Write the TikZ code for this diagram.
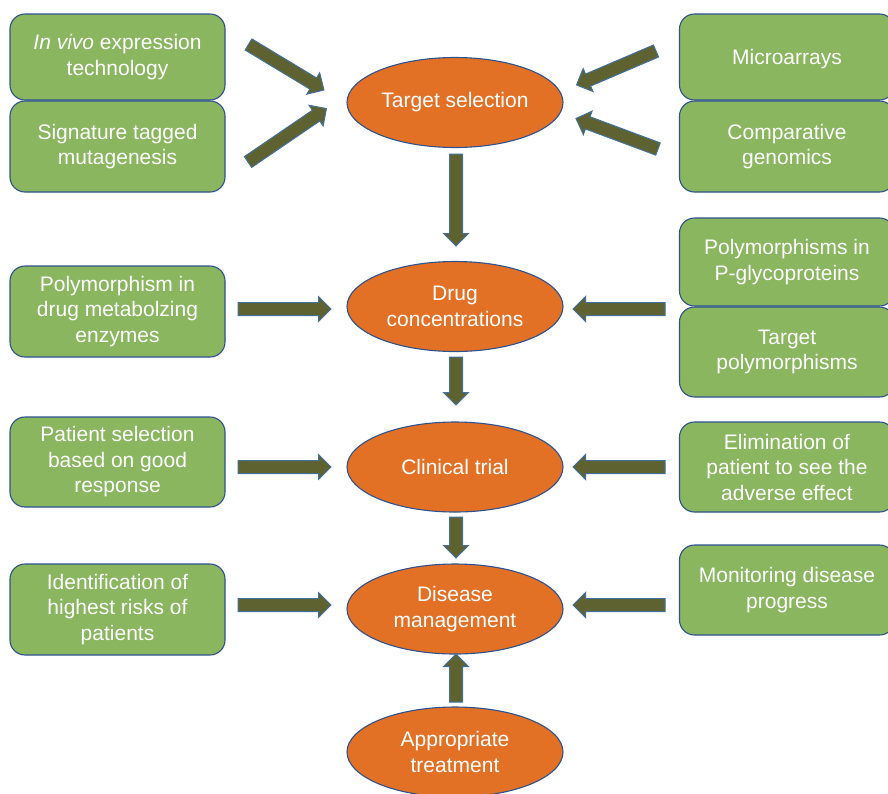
\documentclass[tikz,border=0pt]{standalone}
\usepackage{fontspec}
\setmainfont{Liberation Sans}
\usetikzlibrary{shapes.geometric,shapes.arrows,calc}
\definecolor{boxgreen}{RGB}{137,182,94}
\definecolor{ellorange}{RGB}{226,113,38}
\definecolor{arrolive}{RGB}{94,98,48}
\definecolor{edgeblue}{RGB}{47,82,143}
\definecolor{arredge}{RGB}{65,113,156}
\newcommand{\blockarr}[2]{%
  \path let \p1=($(#2)-(#1)$), \n1={veclen(\x1,\y1)}, \n2={atan2(\y1,\x1)} in
    node[barrow, minimum height=\n1, rotate=\n2, anchor=tail] at (#1) {};}
\begin{document}
\begin{tikzpicture}[x=1pt,y=-1pt,
  gbox/.style={draw=edgeblue, line width=1.1pt, fill=boxgreen, rounded corners=15pt,
    minimum width=215pt, inner sep=0pt, text=white, align=center,
    execute at begin node={\rule{0pt}{18.5pt}},
    font=\fontsize{21}{25.5}\selectfont},
  oell/.style={ellipse, draw=edgeblue, line width=1.1pt, fill=ellorange,
    minimum width=216pt, minimum height=90pt, inner sep=0pt, text=white, align=center,
    font=\fontsize{21}{25.5}\selectfont},
  barrow/.style={single arrow, draw=arredge, line width=1pt, fill=arrolive,
    text height=12pt, text depth=0pt, text width=0pt,
    single arrow head extend=6pt, single arrow tip angle=90,
    single arrow head indent=0pt, inner sep=0pt, outer sep=0pt}]
\useasboundingbox (0,0) rectangle (888,793);
\fill[white] (0,0) rectangle (888,793);
% left boxes
\node[gbox, minimum height=86pt] (ivet) at (117.5,57) {\textit{In vivo} expression\\technology};
\node[gbox, minimum height=91pt] (stm) at (117.5,146.5) {Signature tagged\\mutagenesis};
\node[gbox, minimum height=91pt] (pdme) at (117.5,311.5) {Polymorphism in\\drug metabolzing\\enzymes};
\node[gbox, minimum height=90pt] (psel) at (117.5,462) {Patient selection\\based on good\\response};
\node[gbox, minimum height=91pt] (ident) at (117.5,609.5) {Identification of\\highest risks of\\patients};
% right boxes
\node[gbox, minimum height=86pt] (micro) at (787,57) {Microarrays};
\node[gbox, minimum height=91pt] (comp) at (787,146.5) {Comparative\\genomics};
\node[gbox, minimum height=88pt] (pgly) at (787,262) {Polymorphisms in\\P-glycoproteins};
\node[gbox, minimum height=90pt] (tpoly) at (787,352) {Target\\polymorphisms};
\node[gbox, minimum height=90pt] (elim) at (787,467) {Elimination of\\patient to see the\\adverse effect};
\node[gbox, minimum height=90pt] (monit) at (787,590) {Monitoring disease\\progress};
% ellipses
\node[oell] (ts) at (455,102.5) {Target selection};
\node[oell] (dc) at (455,306.5) {Drug\\concentrations};
\node[oell] (ct) at (455,467) {Clinical trial};
\node[oell] (dm) at (455,609) {Disease\\management};
\node[oell] (at) at (455,752) {Appropriate\\treatment};
% arrow end points
\coordinate (a1s) at (248.5,44.5); \coordinate (a1e) at (324,90);
\coordinate (a2s) at (248,162);   \coordinate (a2e) at (326.5,108.5);
\coordinate (a3s) at (656,51);    \coordinate (a3e) at (576.5,85);
\coordinate (a4s) at (658,149);   \coordinate (a4e) at (576,118.5);
\coordinate (v1s) at (456,154);   \coordinate (v1e) at (456,246);
\coordinate (v2s) at (456,357);   \coordinate (v2e) at (456,405);
\coordinate (v3s) at (456,517);   \coordinate (v3e) at (456,558);
\coordinate (v4s) at (456,702);   \coordinate (v4e) at (456,654);
\coordinate (l1s) at (238,309);   \coordinate (l1e) at (331,309);
\coordinate (l2s) at (238,467);   \coordinate (l2e) at (331,467);
\coordinate (l3s) at (238,605);   \coordinate (l3e) at (331,605);
\coordinate (r1s) at (665,309);   \coordinate (r1e) at (573,309);
\coordinate (r2s) at (665,467);   \coordinate (r2e) at (573,467);
\coordinate (r3s) at (665,605);   \coordinate (r3e) at (573,605);
\blockarr{a1s}{a1e}
\blockarr{a2s}{a2e}
\blockarr{a3s}{a3e}
\blockarr{a4s}{a4e}
\blockarr{v1s}{v1e}
\blockarr{v2s}{v2e}
\blockarr{v3s}{v3e}
\blockarr{v4s}{v4e}
\blockarr{l1s}{l1e}
\blockarr{l2s}{l2e}
\blockarr{l3s}{l3e}
\blockarr{r1s}{r1e}
\blockarr{r2s}{r2e}
\blockarr{r3s}{r3e}
\end{tikzpicture}
\end{document}
